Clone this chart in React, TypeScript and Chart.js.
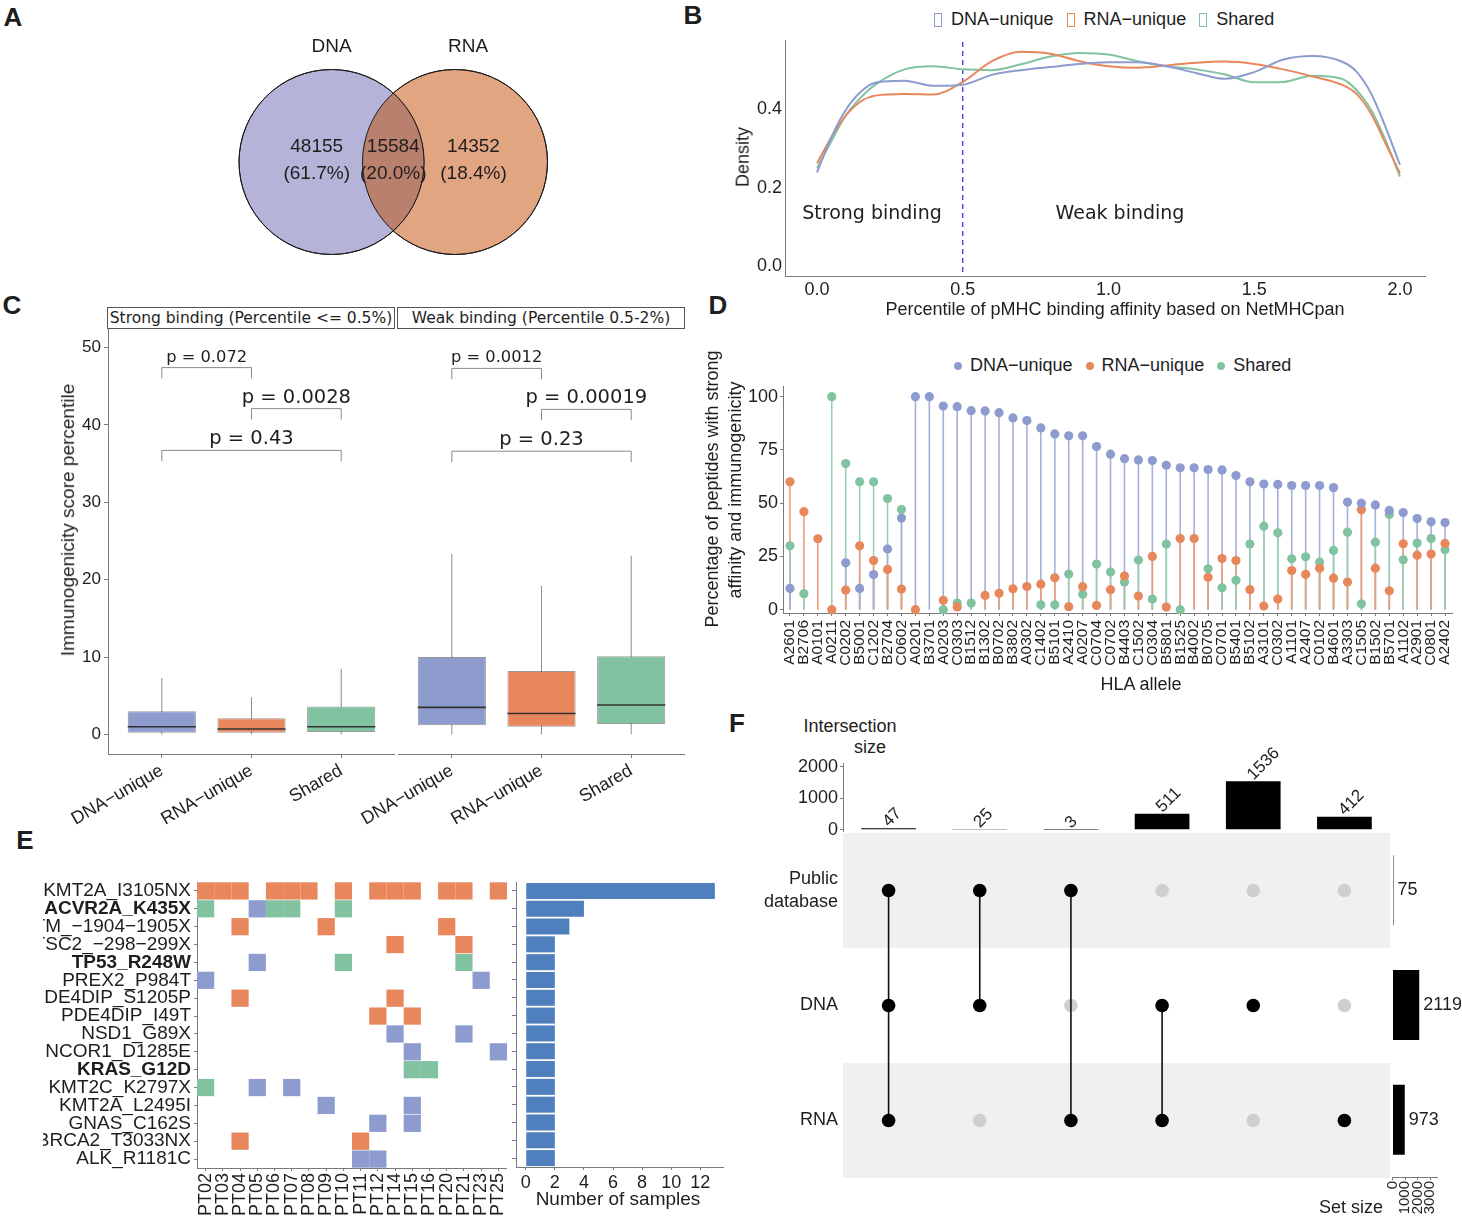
import React, { useEffect, useRef } from 'react';
import { Chart, registerables } from 'chart.js';

Chart.register(...registerables);

const SANS = '"Liberation Sans", Arial, Helvetica, sans-serif';
const DEJAVU = '"DejaVu Sans", Verdana, sans-serif';
const INK = '#1e1e1e';
const AXIS = '#7a7a7a';

Chart.defaults.font.family = SANS;
Chart.defaults.color = INK;

const COL_DNA = '#8D9BCF';
const COL_RNA = '#E7875B';
const COL_SHARED = '#81C3A1';
const STICK_DNA = '#A6AFDA';
const STICK_RNA = '#EC9D78';
const STICK_SHARED = '#99CFB5';

// ---------- Panel A : Venn ----------
const vennSets = ['DNA', 'RNA'];
const vennCounts = [48155, 15584, 14352]; // DNA only, shared, RNA only

// ---------- Panel B : density ----------
const densityLegend = ['DNA−unique', 'RNA−unique', 'Shared'];
const densityX = [0, 0.05, 0.1, 0.15, 0.2, 0.3, 0.4, 0.5, 0.6, 0.7, 0.8, 0.9, 1.0, 1.1, 1.2, 1.3, 1.4, 1.5, 1.6, 1.7, 1.8, 1.85, 1.9, 1.95, 2.0];
const densityDNA = [0.239, 0.33, 0.4, 0.445, 0.468, 0.473, 0.46, 0.463, 0.488, 0.5, 0.508, 0.516, 0.52, 0.52, 0.51, 0.493, 0.478, 0.495, 0.527, 0.536, 0.522, 0.497, 0.442, 0.356, 0.258];
const densityRNA = [0.262, 0.33, 0.385, 0.42, 0.435, 0.439, 0.438, 0.47, 0.523, 0.547, 0.542, 0.523, 0.51, 0.506, 0.512, 0.519, 0.522, 0.516, 0.502, 0.484, 0.463, 0.44, 0.39, 0.314, 0.237];
const densityShared = [0.25, 0.32, 0.386, 0.43, 0.463, 0.502, 0.51, 0.502, 0.5, 0.515, 0.535, 0.544, 0.54, 0.523, 0.51, 0.502, 0.489, 0.469, 0.47, 0.486, 0.478, 0.45, 0.4, 0.322, 0.228];
const densityXTicks = [0, 0.5, 1, 1.5, 2];
const densityYTicks = [0, 0.2, 0.4];
const bindingThreshold = 0.5;

// ---------- Panel C : boxplots ----------
const boxGroups = ['DNA−unique', 'RNA−unique', 'Shared'];
const strongMin = [0, 0, 0];
const strongQ1 = [0.2, 0.2, 0.3];
const strongMed = [1.0, 0.7, 1.0];
const strongQ3 = [3.0, 2.1, 3.6];
const strongMax = [7.3, 4.8, 8.5];
const weakMin = [0, 0, 0];
const weakQ1 = [1.2, 1.0, 1.35];
const weakMed = [3.5, 2.7, 3.8];
const weakQ3 = [10.0, 8.2, 10.1];
const weakMax = [23.3, 19.2, 23.1];
const boxYTicks = [0, 10, 20, 30, 40, 50];
const pPairs = [[0, 1], [1, 2], [0, 2]];
const strongPLabels = ['p = 0.072', 'p = 0.0028', 'p = 0.43'];
const strongPY = [47.4, 42.1, 36.7];
const weakPLabels = ['p = 0.0012', 'p = 0.00019', 'p = 0.23'];
const weakPY = [47.3, 42.0, 36.6];
const stripLabels = ['Strong binding (Percentile <= 0.5%)', 'Weak binding (Percentile 0.5-2%)'];

// ---------- Panel D : lollipop ----------
const hlaAlleles = ['A2601', 'B2706', 'A0101', 'A0211', 'C0202', 'B5001', 'C1202', 'B2704', 'C0602', 'A0201', 'B3701', 'A0203', 'C0303', 'B1512', 'B1302', 'B0702', 'B3802', 'A0302', 'C1402', 'B5101', 'A2410', 'A0207', 'C0704', 'C0702', 'B4403', 'C1502', 'C0304', 'B5801', 'B1525', 'B4002', 'B0705', 'C0701', 'B5401', 'B5102', 'A3101', 'C0302', 'A1101', 'A2407', 'C0102', 'B4601', 'A3303', 'C1505', 'B1502', 'B5701', 'A1102', 'A2901', 'C0801', 'A2402'];
const dnaPct = [10, null, null, null, 22, 10, 16.5, 28.5, 43, 100, 100, 95.6, 95.3, 93.4, 93.3, 92.5, 90, 88.8, 85.3, 82.5, 81.6, 81.6, 76.6, 73, 70.9, 70.3, 70, 67.8, 66.6, 66.6, 65.8, 65.6, 63, 60, 59, 58.8, 58.3, 58.3, 58.3, 57.3, 50.5, 50, 49.2, 46.6, 45.6, 42.8, 41.25, 40.9];
const rnaPct = [60, 46, 33.3, 0, 9.2, 30, 23.1, 18.9, 9.7, 0, null, 4.4, 1.3, null, 6.7, 7.7, 9.8, 10.9, 12, 15, 1.4, 10.8, 2, 9.4, 15.8, 6.4, 25, 1.25, 33.4, 33.4, 15.2, 24, 23.1, 9.4, 1.7, 5, 18.4, 16.6, 19.5, 14.8, 13, 46.9, 19.5, 8.9, 30.9, 25.6, 26.1, 31.1];
const sharedPct = [30, 7.5, null, 100, 68.6, 60, 60, 52.2, 47, null, null, 0, 3.1, 3.1, null, null, null, null, 2.3, 2.3, 16.7, 7.3, 21.4, 17.7, 13, 23.3, 5, 30.8, 0, null, 19.2, 10.3, 13.8, 30.8, 39.2, 36.1, 23.9, 24.8, 22.3, 27.8, 36.4, 2.8, 31.7, 44.7, 23.4, 31.25, 33.4, 28.1];
const pctTicks = [0, 25, 50, 75, 100];

// ---------- Panel E : mutation heatmap ----------
const patients = ['PT02', 'PT03', 'PT04', 'PT05', 'PT06', 'PT07', 'PT08', 'PT09', 'PT10', 'PT11', 'PT12', 'PT14', 'PT15', 'PT16', 'PT20', 'PT21', 'PT23', 'PT25'];
const mutations = ['KMT2A_I3105NX', 'ACVR2A_K435X', 'ATM_−1904−1905X', 'TSC2_−298−299X', 'TP53_R248W', 'PREX2_P984T', 'PDE4DIP_S1205P', 'PDE4DIP_I49T', 'NSD1_G89X', 'NCOR1_D1285E', 'KRAS_G12D', 'KMT2C_K2797X', 'KMT2A_L2495I', 'GNAS_C162S', 'BRCA2_T3033NX', 'ALK_R1181C'];
const boldMutations = ['ACVR2A_K435X', 'TP53_R248W', 'KRAS_G12D'];
// D = DNA-unique, R = RNA-unique, S = Shared, . = none (one char per patient)
const heatRows = [
  'RRR.RRR.R.RRR.RR.R',
  'S..DSS..S.........',
  '..R....R......R...',
  '...........R...R..',
  '...D....S......S..',
  'D...............D.',
  '..R........R......',
  '..........R.R.....',
  '...........D...D..',
  '............D....D',
  '............SS....',
  'S..D.D............',
  '.......D....D.....',
  '..........D.D.....',
  '..R......R........',
  '.........DD.......',
];
const sampleCounts = [13, 4, 3, 2, 2, 2, 2, 2, 2, 2, 2, 2, 2, 2, 2, 2];
const sampleTicks = [0, 2, 4, 6, 8, 10, 12];

// ---------- Panel F : UpSet ----------
const upsetSets = [['Public', 'database'], 'DNA', 'RNA'];
const setSizes = [75, 2119, 973];
const setSizeTicks = [0, 1000, 2000, 3000];
const intersectionSizes = [47, 25, 3, 511, 1536, 412];
const intersectionTicks = [0, 1000, 2000];
const intersectionMembers = [[1, 1, 1], [1, 1, 0], [1, 0, 1], [0, 1, 1], [0, 1, 0], [0, 0, 1]];

// ---------- helpers ----------
const tickGrid = (len = 4) => ({ display: true, drawOnChartArea: false, drawTicks: true, tickLength: len, color: AXIS, lineWidth: 1 });
const axisBorder = { display: true, color: AXIS, width: 1 };
const noGrid = { display: false, drawTicks: false };
const f = (size: number, weight: any = 'normal', family = SANS) => ({ family, size, weight });
const zeroPad = (s: any) => {
  s.paddingTop = 0;
  s.paddingBottom = 0;
  s.paddingLeft = 0;
  s.paddingRight = 0;
};
const fitW = (w: number) => (s: any) => { s.width = w; zeroPad(s); };
const fitH = (h: number) => (s: any) => { s.height = h; zeroPad(s); };
const useTicks = (vals: number[]) => (s: any) => { s.ticks = vals.map((value) => ({ value })); };

const baseOptions = (extra: any) => ({
  animation: false,
  responsive: true,
  maintainAspectRatio: false,
  events: [],
  plugins: { legend: { display: false }, tooltip: { enabled: false } },
  ...extra,
  layout: { autoPadding: false, padding: 0, ...(extra.layout || {}) },
});

type Box = { left: number; top: number; width: number; height: number };

function ChartCanvas({ box, make }: { box: Box; make: () => any }) {
  const ref = useRef<HTMLCanvasElement | null>(null);
  useEffect(() => {
    if (!ref.current) return;
    const chart = new Chart(ref.current, make());
    return () => chart.destroy();
  }, []);
  return (
    <div style={{ position: 'absolute', left: box.left, top: box.top, width: box.width, height: box.height }}>
      <canvas ref={ref} />
    </div>
  );
}

function Label({ x, y, text, size = 18, family = SANS, weight = 400, rotate = 0 }: any) {
  return (
    <div
      style={{
        position: 'absolute',
        left: x,
        top: y,
        transform: `translate(-50%, -50%) rotate(${rotate}deg)`,
        fontSize: size,
        fontFamily: family,
        fontWeight: weight,
        whiteSpace: 'nowrap',
        lineHeight: 1.15,
        color: INK,
      }}
    >
      {text}
    </div>
  );
}

// ---------- A ----------
const vennPlugin = {
  id: 'venn',
  afterDatasetsDraw(chart: any) {
    const { ctx } = chart;
    const a = chart.getDatasetMeta(0).data[0];
    const b = chart.getDatasetMeta(1).data[0];
    const r = a.options.radius;
    ctx.save();
    ctx.beginPath();
    ctx.arc(a.x, a.y, r, 0, Math.PI * 2);
    ctx.clip();
    ctx.beginPath();
    ctx.arc(b.x, b.y, r, 0, Math.PI * 2);
    ctx.fillStyle = '#B9806E';
    ctx.fill();
    ctx.restore();
    ctx.save();
    ctx.strokeStyle = '#1a1a1a';
    ctx.lineWidth = 1;
    [a, b].forEach((p: any) => {
      ctx.beginPath();
      ctx.arc(p.x, p.y, r, 0, Math.PI * 2);
      ctx.stroke();
    });
    const total = vennCounts.reduce((s, v) => s + v, 0);
    ctx.fillStyle = INK;
    ctx.font = `19px ${SANS}`;
    ctx.textAlign = 'center';
    ctx.textBaseline = 'middle';
    ctx.fillText(vennSets[0], a.x, a.y - r - 23);
    ctx.fillText(vennSets[1], b.x + 13, b.y - r - 23);
    const xs = [a.x - 0.16 * r, (a.x + b.x) / 2, b.x + 0.2 * r];
    vennCounts.forEach((c, i) => {
      ctx.fillText(String(c), xs[i], a.y - 15);
      ctx.fillText(`(${((c / total) * 100).toFixed(1)}%)`, xs[i], a.y + 12);
    });
    ctx.restore();
  },
};

const vennConfig = () => ({
  type: 'scatter',
  data: {
    datasets: [
      { label: vennSets[0], data: [{ x: 0, y: 0 }], pointRadius: 92.5, backgroundColor: '#B5B3D8', borderColor: '#1a1a1a', borderWidth: 1, clip: false },
      { label: vennSets[1], data: [{ x: 1, y: 0 }], pointRadius: 92.5, backgroundColor: '#E2A582', borderColor: '#1a1a1a', borderWidth: 1, clip: false },
    ],
  },
  options: baseOptions({
    scales: {
      x: { type: 'linear', display: false, min: -1.065, max: 2.174 },
      y: { type: 'linear', display: false, min: -1, max: 1 },
    },
  }),
  plugins: [vennPlugin],
});

// ---------- B ----------
const thresholdPlugin = {
  id: 'threshold',
  beforeDatasetsDraw(chart: any) {
    const { ctx, chartArea, scales } = chart;
    const px = scales.x.getPixelForValue(bindingThreshold);
    ctx.save();
    ctx.strokeStyle = '#2626EE';
    ctx.lineWidth = 1.2;
    ctx.setLineDash([5, 4]);
    ctx.beginPath();
    ctx.moveTo(px, chartArea.top + 2);
    ctx.lineTo(px, chartArea.bottom);
    ctx.stroke();
    ctx.restore();
  },
};

const densityConfig = () => {
  const mk = (label: string, vals: number[], color: string) => ({
    label,
    data: densityX.map((x, i) => ({ x, y: vals[i] })),
    borderColor: color,
    borderWidth: 2,
    pointRadius: 0,
    fill: false,
    cubicInterpolationMode: 'monotone',
  });
  return {
    type: 'line',
    data: {
      datasets: [mk(densityLegend[0], densityDNA, COL_DNA), mk(densityLegend[1], densityRNA, COL_RNA), mk(densityLegend[2], densityShared, COL_SHARED)],
    },
    options: baseOptions({
      layout: { padding: { left: 0, right: 15, top: 0, bottom: 0 } },
      scales: {
        x: {
          type: 'linear',
          min: -0.11,
          max: 2.086,
          afterBuildTicks: useTicks(densityXTicks),
          ticks: { padding: 3, font: f(18), color: INK, callback: (v: number) => v.toFixed(1) },
          grid: noGrid,
          border: axisBorder,
          afterFit: fitH(25),
        },
        y: {
          type: 'linear',
          min: -0.0256,
          max: 0.577,
          afterBuildTicks: useTicks(densityYTicks),
          ticks: { padding: 3, font: f(18), color: INK, callback: (v: number) => v.toFixed(1) },
          grid: noGrid,
          border: axisBorder,
          afterFit: fitW(85),
        },
      },
    }),
    plugins: [thresholdPlugin],
  };
};

// ---------- C ----------
const boxFills = [COL_DNA, COL_RNA, COL_SHARED];

const boxExtras = (lo: number[], med: number[], hi: number[], pY: number[], pLabels: string[]) => ({
  id: 'boxExtras',
  beforeDatasetsDraw(chart: any) {
    const { ctx, scales } = chart;
    ctx.save();
    ctx.strokeStyle = '#8c8c8c';
    ctx.lineWidth = 1;
    lo.forEach((v, i) => {
      const px = scales.x.getPixelForValue(i);
      ctx.beginPath();
      ctx.moveTo(px, scales.y.getPixelForValue(v));
      ctx.lineTo(px, scales.y.getPixelForValue(hi[i]));
      ctx.stroke();
    });
    ctx.restore();
  },
  afterDatasetsDraw(chart: any) {
    const { ctx, scales } = chart;
    const meta = chart.getDatasetMeta(0);
    ctx.save();
    ctx.strokeStyle = '#333333';
    ctx.lineWidth = 1.6;
    meta.data.forEach((bar: any, i: number) => {
      const { x, width } = bar.getProps(['x', 'width'], true);
      const py = scales.y.getPixelForValue(med[i]);
      ctx.beginPath();
      ctx.moveTo(x - width / 2, py);
      ctx.lineTo(x + width / 2, py);
      ctx.stroke();
    });
    ctx.strokeStyle = '#8a8a8a';
    ctx.lineWidth = 1;
    ctx.fillStyle = INK;
    ctx.textAlign = 'center';
    ctx.textBaseline = 'alphabetic';
    pPairs.forEach(([a, b], k) => {
      const xa = scales.x.getPixelForValue(a);
      const xb = scales.x.getPixelForValue(b);
      const yt = scales.y.getPixelForValue(pY[k]);
      const yb = scales.y.getPixelForValue(pY[k] - 1.4);
      ctx.beginPath();
      ctx.moveTo(xa, yb);
      ctx.lineTo(xa, yt);
      ctx.lineTo(xb, yt);
      ctx.lineTo(xb, yb);
      ctx.stroke();
      ctx.font = `${k === 0 ? 16.3 : 19.5}px ${DEJAVU}`;
      ctx.fillText(pLabels[k], (xa + xb) / 2, yt - 6);
    });
    ctx.restore();
  },
});

const boxConfig = (lo: number[], q1: number[], med: number[], q3: number[], hi: number[], pY: number[], pLabels: string[], showY: boolean) => () => ({
  type: 'bar',
  data: {
    datasets: [
      {
        data: boxGroups.map((_, i) => ({ x: i, y: [q1[i], q3[i]] })),
        backgroundColor: boxFills,
        borderColor: 'rgba(70,70,70,0.55)',
        borderWidth: 1,
        borderSkipped: false,
        categoryPercentage: 1,
        barPercentage: 0.76,
      },
    ],
  },
  options: baseOptions({
    scales: {
      x: {
        type: 'linear',
        min: -0.6,
        max: 2.6,
        offset: false,
        afterBuildTicks: useTicks(boxGroups.map((_, i) => i)),
        ticks: { autoSkip: false, minRotation: 30, maxRotation: 30, padding: 2, font: f(18), color: INK, callback: (v: number) => boxGroups[v] ?? '' },
        grid: { ...tickGrid(4), offset: false },
        border: axisBorder,
        afterFit: fitH(75),
      },
      y: {
        type: 'linear',
        min: -2.53,
        max: 52.39,
        afterBuildTicks: useTicks(boxYTicks),
        ticks: { display: showY, padding: 3, font: f(17), color: INK },
        grid: showY ? tickGrid(4) : noGrid,
        border: { ...axisBorder, display: showY },
        afterFit: fitW(80),
      },
    },
  }),
  plugins: [boxExtras(lo, med, hi, pY, pLabels)],
});

// ---------- D ----------
const stickPlugin = {
  id: 'sticks',
  beforeDatasetsDraw(chart: any) {
    const { ctx, scales } = chart;
    const series = [
      { vals: dnaPct, color: STICK_DNA },
      { vals: rnaPct, color: STICK_RNA },
      { vals: sharedPct, color: STICK_SHARED },
    ];
    const y0 = scales.y.getPixelForValue(0);
    ctx.save();
    ctx.lineWidth = 1.6;
    hlaAlleles.forEach((_, i) => {
      const px = scales.x.getPixelForValue(i);
      series
        .filter((s) => s.vals[i] !== null)
        .sort((a: any, b: any) => b.vals[i] - a.vals[i])
        .forEach((s: any) => {
          ctx.strokeStyle = s.color;
          ctx.beginPath();
          ctx.moveTo(px, y0);
          ctx.lineTo(px, scales.y.getPixelForValue(s.vals[i]));
          ctx.stroke();
        });
    });
    ctx.restore();
  },
};

const lollipopConfig = () => {
  const mk = (label: string, vals: any[], color: string) => ({
    label,
    data: vals,
    showLine: false,
    pointRadius: 4.6,
    pointBackgroundColor: color,
    pointBorderWidth: 0,
    borderColor: color,
    clip: false,
  });
  return {
    type: 'line',
    data: { labels: hlaAlleles, datasets: [mk('DNA−unique', dnaPct, COL_DNA), mk('RNA−unique', rnaPct, COL_RNA), mk('Shared', sharedPct, COL_SHARED)] },
    options: baseOptions({
      layout: { padding: { right: 8 } },
      scales: {
        x: {
          type: 'category',
          offset: true,
          ticks: { autoSkip: false, minRotation: 90, maxRotation: 90, padding: 4, font: f(15.5), color: INK },
          grid: { ...tickGrid(3), offset: false },
          border: axisBorder,
          afterFit: fitH(63),
        },
        y: {
          type: 'linear',
          min: -1.55,
          max: 105,
          afterBuildTicks: useTicks(pctTicks),
          ticks: { padding: 2, font: f(18), color: INK },
          grid: tickGrid(3),
          border: axisBorder,
          afterFit: fitW(83),
        },
      },
    }),
    plugins: [stickPlugin],
  };
};

// ---------- E ----------
const cellData = (code: string) => {
  const pts: any[] = [];
  heatRows.forEach((row, r) => {
    row.split('').forEach((ch, c) => {
      if (ch === code) pts.push({ x: patients[c], y: mutations[r] });
    });
  });
  return pts;
};

const heatConfig = () => {
  const mk = (label: string, code: string, color: string) => ({
    label,
    data: cellData(code),
    pointStyle: 'rect',
    pointRadius: (c: any) => (c.chart.scales.x.width / patients.length) * Math.SQRT1_2,
    pointBackgroundColor: color,
    backgroundColor: color,
    pointBorderWidth: 0,
    borderWidth: 0,
    clip: false,
  });
  return {
    type: 'scatter',
    data: { datasets: [mk('DNA−unique', 'D', COL_DNA), mk('RNA−unique', 'R', COL_RNA), mk('Shared', 'S', COL_SHARED)] },
    options: baseOptions({
      scales: {
        x: {
          type: 'category',
          labels: patients,
          offset: true,
          ticks: { autoSkip: false, minRotation: 90, maxRotation: 90, padding: 2, font: f(18), color: INK },
          grid: { ...tickGrid(3), offset: false },
          border: axisBorder,
          afterFit: fitH(52),
        },
        y: {
          type: 'category',
          labels: mutations,
          offset: true,
          ticks: {
            autoSkip: false,
            padding: 3,
            color: INK,
            font: (c: any) => f(19, boldMutations.includes(mutations[c.index]) ? 'bold' : 'normal'),
          },
          grid: { ...tickGrid(3), offset: false },
          border: axisBorder,
          afterFit: fitW(154),
        },
      },
    }),
  };
};

const sampleBarConfig = () => ({
  type: 'bar',
  data: { labels: mutations, datasets: [{ data: sampleCounts, backgroundColor: '#4F80BD', categoryPercentage: 1, barPercentage: 0.9 }] },
  options: baseOptions({
    indexAxis: 'y',
    layout: { padding: { right: 8 } },
    scales: {
      x: {
        type: 'linear',
        min: -0.67,
        max: 13.56,
        afterBuildTicks: useTicks(sampleTicks),
        ticks: { padding: 2, font: f(18), color: INK },
        grid: tickGrid(3),
        border: axisBorder,
        afterFit: fitH(27),
      },
      y: {
        ticks: { display: false },
        grid: { ...tickGrid(4), offset: false },
        border: axisBorder,
        afterFit: fitW(10),
      },
    },
  }),
});

// ---------- F ----------
const intersectionLabels = {
  id: 'interLabels',
  afterDatasetsDraw(chart: any) {
    const { ctx } = chart;
    const meta = chart.getDatasetMeta(0);
    ctx.save();
    ctx.fillStyle = INK;
    ctx.font = `17px ${SANS}`;
    ctx.textAlign = 'left';
    ctx.textBaseline = 'middle';
    meta.data.forEach((bar: any, i: number) => {
      const { x, y } = bar.getProps(['x', 'y'], true);
      ctx.save();
      ctx.translate(x - 3, y - 4);
      ctx.rotate(-Math.PI / 4);
      ctx.fillText(String(intersectionSizes[i]), 0, 0);
      ctx.restore();
    });
    ctx.restore();
  },
};

const intersectionConfig = () => ({
  type: 'bar',
  data: { labels: intersectionSizes.map((_, i) => String(i + 1)), datasets: [{ data: intersectionSizes, backgroundColor: '#000000', categoryPercentage: 1, barPercentage: 0.6 }] },
  options: baseOptions({
    layout: { padding: { top: 30, bottom: 14 } },
    scales: {
      x: { display: false },
      y: {
        type: 'linear',
        min: -40,
        max: 2118,
        afterBuildTicks: useTicks(intersectionTicks),
        ticks: { padding: 2, font: f(18), color: INK, callback: (v: number) => String(v) },
        grid: tickGrid(3),
        border: axisBorder,
        afterFit: fitW(83),
      },
    },
  }),
  plugins: [intersectionLabels],
});

const stripePlugin = {
  id: 'stripes',
  beforeDatasetsDraw(chart: any) {
    const { ctx, chartArea, scales } = chart;
    ctx.save();
    ctx.fillStyle = '#F0F0F0';
    upsetSets.forEach((_, r) => {
      if (r % 2 === 1) return;
      const y1 = scales.y.getPixelForValue(r - 0.5);
      const y2 = scales.y.getPixelForValue(r + 0.5);
      ctx.fillRect(chartArea.left, Math.min(y1, y2), chartArea.right - chartArea.left, Math.abs(y2 - y1));
    });
    ctx.restore();
  },
};

const matrixConfig = () => {
  const inactive: any[] = [];
  const active: any[] = [];
  const links: any[] = [];
  intersectionMembers.forEach((m, i) => {
    const rows: number[] = [];
    m.forEach((v, r) => {
      if (v) {
        active.push({ x: i, y: r });
        rows.push(r);
      } else inactive.push({ x: i, y: r });
    });
    if (rows.length > 1) {
      links.push({
        data: [{ x: i, y: Math.min(...rows) }, { x: i, y: Math.max(...rows) }],
        showLine: true,
        borderColor: '#111111',
        borderWidth: 1.6,
        pointRadius: 0,
        order: 2,
      });
    }
  });
  return {
    type: 'scatter',
    data: {
      datasets: [
        { data: inactive, pointRadius: 6.8, pointBackgroundColor: '#CFCFCF', pointBorderWidth: 0, order: 3 },
        ...links,
        { data: active, pointRadius: 6.8, pointBackgroundColor: '#000000', pointBorderWidth: 0, order: 1 },
      ],
    },
    options: baseOptions({
      scales: {
        x: { type: 'linear', display: false, min: -0.5, max: 5.5 },
        y: {
          type: 'linear',
          min: -0.5,
          max: 2.5,
          reverse: true,
          afterBuildTicks: useTicks(upsetSets.map((_, i) => i)),
          ticks: { padding: 5, font: { family: SANS, size: 18, lineHeight: 1.3 }, color: INK, callback: (v: number) => upsetSets[v] ?? '' },
          grid: noGrid,
          border: { display: false },
          afterFit: fitW(83),
        },
      },
    }),
    plugins: [stripePlugin],
  };
};

const setSizeLabels = {
  id: 'setLabels',
  afterDatasetsDraw(chart: any) {
    const { ctx } = chart;
    const meta = chart.getDatasetMeta(0);
    ctx.save();
    ctx.fillStyle = INK;
    ctx.font = `18px ${SANS}`;
    ctx.textAlign = 'left';
    ctx.textBaseline = 'middle';
    meta.data.forEach((bar: any, i: number) => {
      const { x, y } = bar.getProps(['x', 'y'], true);
      ctx.fillText(String(setSizes[i]), x + 4, y);
    });
    ctx.restore();
  },
};

const setSizeConfig = () => ({
  type: 'bar',
  data: { labels: upsetSets.map((s: any) => (Array.isArray(s) ? s.join(' ') : s)), datasets: [{ data: setSizes, backgroundColor: '#000000', categoryPercentage: 1, barPercentage: 0.61 }] },
  options: baseOptions({
    indexAxis: 'y',
    layout: { padding: { right: 25 } },
    scales: {
      x: {
        type: 'linear',
        min: 0,
        max: 3530,
        afterBuildTicks: useTicks(setSizeTicks),
        ticks: { autoSkip: false, minRotation: 90, maxRotation: 90, padding: 1, font: f(15), color: INK, callback: (v: number) => String(v) },
        grid: tickGrid(3),
        border: axisBorder,
        afterFit: fitH(44),
      },
      y: {
        ticks: { display: false },
        grid: noGrid,
        border: { display: false },
        afterFit: fitW(12.5),
      },
    },
  }),
  plugins: [setSizeLabels],
});

// ---------- legends ----------
const legendColors = [COL_DNA, COL_RNA, COL_SHARED];

function RectLegend({ left, top }: { left: number; top: number }) {
  return (
    <div style={{ position: 'absolute', left, top, display: 'flex', alignItems: 'center', fontSize: 18, fontFamily: SANS, color: INK, lineHeight: 1.2 }}>
      {densityLegend.map((t, i) => (
        <div key={t} style={{ display: 'flex', alignItems: 'center', marginRight: 13 }}>
          <span style={{ display: 'inline-block', width: 8, height: 14, border: `1.5px solid ${legendColors[i]}`, boxSizing: 'border-box', marginRight: 9 }} />
          <span>{t}</span>
        </div>
      ))}
    </div>
  );
}

function DotLegend({ left, top }: { left: number; top: number }) {
  return (
    <div style={{ position: 'absolute', left, top, display: 'flex', alignItems: 'center', fontSize: 18, fontFamily: SANS, color: INK, lineHeight: 1.2 }}>
      {densityLegend.map((t, i) => (
        <div key={t} style={{ display: 'flex', alignItems: 'center', marginRight: 13 }}>
          <span style={{ display: 'inline-block', width: 8, height: 8, borderRadius: 4, background: legendColors[i], marginRight: 8 }} />
          <span>{t}</span>
        </div>
      ))}
    </div>
  );
}

function Strip({ left, text }: { left: number; text: string }) {
  return (
    <div
      style={{
        position: 'absolute',
        left,
        top: 307,
        width: 288,
        height: 22,
        border: '1px solid #555',
        boxSizing: 'border-box',
        display: 'flex',
        alignItems: 'center',
        justifyContent: 'center',
        fontFamily: DEJAVU,
        fontSize: 15.5,
        color: INK,
        background: '#fff',
        whiteSpace: 'nowrap',
        overflow: 'hidden',
      }}
    >
      {text}
    </div>
  );
}

export default function App() {
  return (
    <div style={{ position: 'absolute', left: 0, top: 0, width: 1462, height: 1221, background: '#ffffff', overflow: 'hidden', fontFamily: SANS, color: INK }}>
      {/* panel letters */}
      <Label x={13} y={18} text="A" size={26} weight={700} />
      <Label x={693} y={16} text="B" size={26} weight={700} />
      <Label x={12} y={306} text="C" size={26} weight={700} />
      <Label x={718} y={306} text="D" size={26} weight={700} />
      <Label x={25} y={841} text="E" size={26} weight={700} />
      <Label x={737} y={724} text="F" size={26} weight={700} />

      {/* A */}
      <ChartCanvas box={{ left: 200, top: 32, width: 400, height: 260 }} make={vennConfig} />

      {/* B */}
      <RectLegend left={934} top={9} />
      <ChartCanvas box={{ left: 700, top: 40, width: 740, height: 261 }} make={densityConfig} />
      <Label x={743} y={157} text="Density" size={18} rotate={-90} />
      <Label x={872} y={213} text="Strong binding" size={19} family={DEJAVU} />
      <Label x={1120} y={213} text="Weak binding" size={19} family={DEJAVU} />
      <Label x={1115} y={309} text="Percentile of pMHC binding affinity based on NetMHCpan" size={18} />

      {/* C */}
      <Strip left={107} text={stripLabels[0]} />
      <Strip left={397} text={stripLabels[1]} />
      <ChartCanvas box={{ left: 28, top: 329, width: 367, height: 500 }} make={boxConfig(strongMin, strongQ1, strongMed, strongQ3, strongMax, strongPY, strongPLabels, true)} />
      <ChartCanvas box={{ left: 318, top: 329, width: 367, height: 500 }} make={boxConfig(weakMin, weakQ1, weakMed, weakQ3, weakMax, weakPY, weakPLabels, false)} />
      <Label x={68} y={520} text="Immunogenicity score percentile" size={19} rotate={-90} />

      {/* D */}
      <DotLegend left={954} top={355} />
      <ChartCanvas box={{ left: 700, top: 386, width: 760, height: 290 }} make={lollipopConfig} />
      <Label x={712} y={489} text="Percentage of peptides with strong" size={18} rotate={-90} />
      <Label x={735} y={490} text="affinity and immunogenicity" size={18} rotate={-90} />
      <Label x={1141} y={684} text="HLA allele" size={18} />

      {/* E */}
      <ChartCanvas box={{ left: 43, top: 882, width: 464, height: 338 }} make={heatConfig} />
      <ChartCanvas box={{ left: 506, top: 882, width: 225, height: 312 }} make={sampleBarConfig} />
      <Label x={618} y={1199} text="Number of samples" size={19} />

      {/* F */}
      <Label x={850} y={726} text="Intersection" size={18} />
      <Label x={870} y={747} text="size" size={18} />
      <ChartCanvas box={{ left: 760, top: 733, width: 630, height: 112 }} make={intersectionConfig} />
      <ChartCanvas box={{ left: 760, top: 833, width: 630, height: 345 }} make={matrixConfig} />
      <ChartCanvas box={{ left: 1380, top: 833, width: 82, height: 388 }} make={setSizeConfig} />
      <Label x={1351} y={1207} text="Set size" size={18} />
    </div>
  );
}
